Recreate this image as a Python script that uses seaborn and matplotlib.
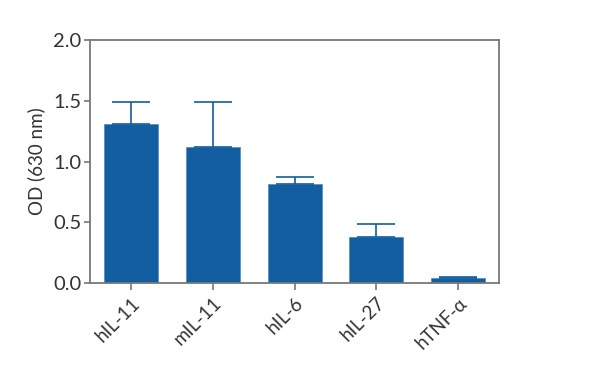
import numpy as np
import pandas as pd
import matplotlib
matplotlib.use("Agg")
import matplotlib.pyplot as plt
import seaborn as sns

cytokines = ["hIL-11", "mIL-11", "hIL-6", "hIL-27", "hTNF-α"]
od_mean = [1.31, 1.12, 0.815, 0.38, 0.042]
od_err = [0.18, 0.37, 0.057, 0.103, 0.007]

sns.set_style("ticks")
plt.rcParams["font.family"] = ["Lato", "DejaVu Sans"]

df = pd.DataFrame({"Cytokine": cytokines, "OD": od_mean})

fig = plt.figure(figsize=(6, 3.88), dpi=100)
ax = fig.add_axes([0.15, 0.2706, 0.682, 0.6263])

blue = "#125EA0"
sns.barplot(data=df, x="Cytokine", y="OD", color=blue, width=0.66,
            saturation=1, edgecolor="#5b8fc2", linewidth=0.6, ax=ax)
ax.errorbar(np.arange(len(cytokines)), od_mean,
            yerr=[np.zeros(len(od_err)), od_err],
            fmt="none", ecolor=blue, elinewidth=1.2, capsize=13.5, capthick=1.2)

ax.set_xlim(-0.5, 4.5)
ax.set_ylim(0, 2.0)
ax.set_yticks([0, 0.5, 1.0, 1.5, 2.0])
ax.set_yticklabels(["0.0", "0.5", "1.0", "1.5", "2.0"])
ax.set_xlabel("")
ax.set_ylabel("OD (630 nm)", fontsize=13.5, color="#333333", labelpad=6)

for s in ax.spines.values():
    s.set_visible(True)
    s.set_color("#777777")
    s.set_linewidth(1.3)

ax.tick_params(axis="y", labelsize=14.5, labelcolor="#333333", length=4, width=1.2, color="#777777", pad=2)
ax.tick_params(axis="x", labelsize=13.5, labelcolor="#333333", length=5, width=1.2, color="#777777", pad=3)
plt.setp(ax.get_xticklabels(), rotation=45, ha="right", rotation_mode="anchor")

fig.savefig("out.png", dpi=100)
